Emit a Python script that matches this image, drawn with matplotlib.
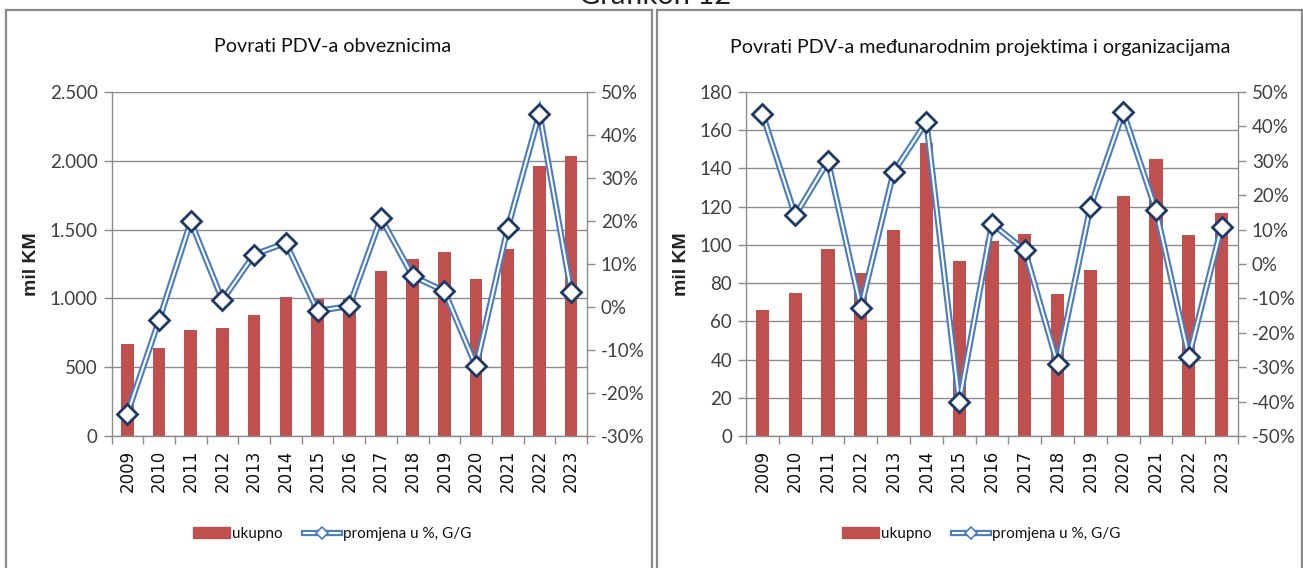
import matplotlib
matplotlib.use("Agg")
import matplotlib.pyplot as plt
from matplotlib.lines import Line2D
from matplotlib.patches import Patch
from matplotlib.ticker import FixedLocator, FuncFormatter

years = ["2009", "2010", "2011", "2012", "2013", "2014", "2015", "2016",
         "2017", "2018", "2019", "2020", "2021", "2022", "2023"]

# Panel 1: Povrati PDV-a obveznicima (mil KM) and yearly change (%)
obv_total = [666, 642, 768, 785, 877, 1013, 998, 995, 1202, 1286, 1337, 1141, 1362, 1965, 2033]
obv_change = [-24.8, -3.1, 19.9, 1.6, 12.2, 14.9, -0.9, 0.2, 20.7, 7.2, 3.7, -13.8, 18.4, 45.0, 3.6]

# Panel 2: Povrati PDV-a međunarodnim projektima i organizacijama
int_total = [66.1, 74.8, 98.0, 85.3, 108.0, 153.3, 91.4, 101.9, 105.5, 74.1, 87.0, 125.6, 145.1, 105.0, 116.5]
int_change = [43.7, 14.1, 29.9, -12.7, 26.7, 41.3, -40.2, 11.7, 4.0, -29.2, 16.6, 44.2, 15.6, -27.0, 10.8]

titles = ["Povrati PDV-a obveznicima",
          "Povrati PDV-a međunarodnim projektima i organizacijama"]
bar_label = "ukupno"
line_label = "promjena u %, G/G"
ylabel = "mil KM"
fig_title = "Grafikon 12"

BAR = "#C0504D"
LINE = "#4A7DBF"
MEDGE = "#1F3864"
GRID = "#8C8C8C"
TXT = "#404040"
NARROW = ["Lato", "DejaVu Sans"]

W, H = 1303, 568
fig = plt.figure(figsize=(W / 100, H / 100), dpi=100)

def fx(px):
    return px / W

def fy(py):
    return 1 - py / H

# panel frames
for x0, x1 in [(6, 652), (656.5, 1302)]:
    kw = dict(color="#8A8A8A", lw=1.6, transform=fig.transFigure)
    fig.add_artist(Line2D([fx(x0), fx(x0)], [fy(10), fy(570)], **kw))
    fig.add_artist(Line2D([fx(x1), fx(x1)], [fy(10), fy(570)], **kw))
    fig.add_artist(Line2D([fx(x0), fx(x1)], [fy(10), fy(10)], **kw))

fig.text(fx(655), fy(4.5), fig_title, ha="center", va="baseline", fontsize=21,
         family=NARROW, color="#222222")

def fmt_thousands(v, pos):
    return f"{int(round(v)):,}".replace(",", ".")

def fmt_plain(v, pos):
    return f"{int(round(v))}"

def fmt_pct(v, pos):
    return f"{int(round(v))}%"

panels = [
    dict(x0=111.5, x1=587, total=obv_total, change=obv_change, lmax=2500, lstep=500,
         rmin=-30, rmax=50, title_x=333, leg_x=332, lfmt=fmt_thousands, ylab_x=40),
    dict(x0=746, x1=1238, total=int_total, change=int_change, lmax=180, lstep=20,
         rmin=-50, rmax=50, title_x=980, leg_x=981, lfmt=fmt_plain, ylab_x=690),
]

for i, p in enumerate(panels):
    top, bot = 92, 436
    wpx = p["x1"] - p["x0"]
    ax = fig.add_axes([fx(p["x0"]), fy(bot), fx(wpx), (bot - top) / H])
    xs = list(range(len(years)))
    ax.bar(xs, p["total"], width=0.4, color=BAR, zorder=2)
    ax.set_xlim(-0.5, len(years) - 0.5)
    ax.set_ylim(0, p["lmax"])
    yt = list(range(0, p["lmax"] + 1, p["lstep"]))
    ax.yaxis.set_major_locator(FixedLocator(yt))
    ax.yaxis.set_major_formatter(FuncFormatter(p["lfmt"]))
    ax.grid(axis="y", color=GRID, lw=1.0, zorder=0)
    ax.set_axisbelow(True)
    ax.set_xticks(xs)
    ax.set_xticklabels(years, rotation=90, fontsize=12, color="#111111")
    ax.set_xticks([x - 0.5 for x in range(len(years) + 1)], minor=True)
    ax.tick_params(axis="x", which="major", length=0, pad=10)
    ax.tick_params(axis="x", which="minor", length=6, color=GRID, width=1)
    ax.tick_params(axis="y", length=6, color=GRID, width=1, labelsize=13.5, labelcolor=TXT, pad=4)
    for lab in ax.get_yticklabels():
        lab.set_family(NARROW)
    for s in ["top", "right"]:
        ax.spines[s].set_visible(False)
    for s in ["left", "bottom"]:
        ax.spines[s].set_color(GRID)
        ax.spines[s].set_linewidth(1.0)
    ax.set_ylabel(ylabel, fontsize=14, fontweight="bold", family="Liberation Sans", color="#222222")
    ax.yaxis.set_label_coords((p["ylab_x"] - p["x0"]) / wpx, 0.5)

    ax2 = ax.twinx()
    ax2.set_ylim(p["rmin"], p["rmax"])
    ax2.yaxis.set_major_locator(FixedLocator(list(range(p["rmin"], p["rmax"] + 1, 10))))
    ax2.yaxis.set_major_formatter(FuncFormatter(fmt_pct))
    ax2.tick_params(axis="y", length=6, color=GRID, width=1, labelsize=13.5, labelcolor=TXT, pad=4)
    for lab in ax2.get_yticklabels():
        lab.set_family(NARROW)
    for s in ["top", "left", "bottom"]:
        ax2.spines[s].set_visible(False)
    ax2.spines["right"].set_color(GRID)
    ax2.spines["right"].set_linewidth(1.0)
    ax2.plot(xs, p["change"], color=LINE, lw=4.5, zorder=3, solid_joinstyle="miter")
    ax2.plot(xs, p["change"], color="white", lw=1.5, zorder=4, solid_joinstyle="miter")
    ax2.plot(xs, p["change"], linestyle="none", marker="D", markersize=10,
             markerfacecolor="white", markeredgecolor=MEDGE, markeredgewidth=2, zorder=5)

    fig.text(fx(p["title_x"]), fy(47), titles[i], ha="center", va="center",
             fontsize=14.2, family=NARROW, color="#111111")

    h_bar = Patch(facecolor=BAR, edgecolor=BAR)
    h1 = Line2D([], [], color=LINE, lw=4.5)
    h2 = Line2D([], [], color="white", lw=1.5)
    h3 = Line2D([], [], linestyle="none", marker="D", markersize=6,
                markerfacecolor="white", markeredgecolor=LINE, markeredgewidth=1.2)
    leg = fig.legend([h_bar, (h1, h2, h3)], [bar_label, line_label],
                     loc="center", bbox_to_anchor=(fx(p["leg_x"]), fy(534)),
                     ncol=2, frameon=False, handlelength=2.4, handletextpad=0.15,
                     columnspacing=1.4, prop={"family": NARROW, "size": 11})
    for t in leg.get_texts():
        t.set_color("#111111")

fig.savefig("out.png", dpi=100)
